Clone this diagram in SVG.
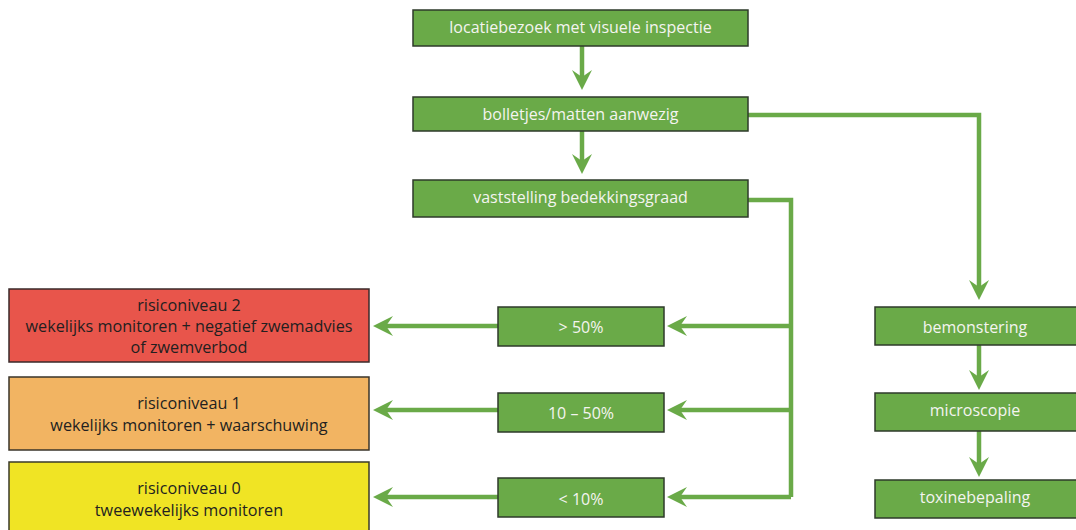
<svg xmlns="http://www.w3.org/2000/svg" width="1076" height="530" viewBox="0 0 1076 530">
<defs>
<marker id="ah" viewBox="0 0 20 20" refX="8" refY="10" markerWidth="20" markerHeight="20" orient="auto" markerUnits="userSpaceOnUse">
<path d="M0,0 L20,10 L0,20 L7,10 Z" fill="#6aaa48"/>
</marker>
<style>
.g{fill:#6aaa48;stroke:#2e3a2a;stroke-width:1.5}
.red{fill:#e8554b;stroke:#3a2a2a;stroke-width:1.5}
.org{fill:#f2b462;stroke:#3a342a;stroke-width:1.5}
.yel{fill:#f0e424;stroke:#3a3a2a;stroke-width:1.5}
.tw{font-family:"Open Sans","Noto Sans",sans-serif;font-size:16px;fill:#f4f4f0;text-anchor:middle}
.td{font-family:"Open Sans","Noto Sans",sans-serif;font-size:16.2px;fill:#231f20;text-anchor:middle}
.c{fill:none;stroke:#6aaa48;stroke-width:4.5}
.a{marker-end:url(#ah)}
</style>
</defs>
<rect width="1076" height="530" fill="#ffffff"/>
<g id="connectors">
<path class="c a" d="M582,46 V78"/>
<path class="c a" d="M582,131 V162"/>
<path class="c a" d="M748,115 H979 V288"/>
<path class="c" d="M748,200 H791 V497"/>
<path class="c a" d="M791,326 H679"/>
<path class="c a" d="M791,410 H679"/>
<path class="c a" d="M791,497 H679"/>
<path class="c a" d="M498,326 H385"/>
<path class="c a" d="M498,410 H385"/>
<path class="c a" d="M498,497 H385"/>
<path class="c a" d="M979,345 V378"/>
<path class="c a" d="M979,431 V465"/>
</g>
<g id="n1"><rect class="g" x="413" y="10" width="335" height="36"/><text class="tw" x="580.5" y="33">locatiebezoek met visuele inspectie</text></g>
<g id="n2"><rect class="g" x="413" y="97" width="335" height="34"/><text class="tw" x="580.5" y="120">bolletjes/matten aanwezig</text></g>
<g id="n3"><rect class="g" x="413" y="180" width="335" height="37"/><text class="tw" x="580.5" y="203">vaststelling bedekkingsgraad</text></g>
<g id="n4"><rect class="g" x="498" y="307" width="166" height="39"/><text class="tw" x="581" y="332.5">&gt; 50%</text></g>
<g id="n5"><rect class="g" x="498" y="393" width="166" height="39"/><text class="tw" x="581" y="418.5">10 – 50%</text></g>
<g id="n6"><rect class="g" x="498" y="478" width="166" height="39"/><text class="tw" x="581" y="504.5">&lt; 10%</text></g>
<g id="n7"><rect class="g" x="875" y="307" width="210" height="38"/><text class="tw" x="975" y="332.5">bemonstering</text></g>
<g id="n8"><rect class="g" x="875" y="393" width="210" height="38"/><text class="tw" x="975" y="415.5">microscopie</text></g>
<g id="n9"><rect class="g" x="875" y="480" width="210" height="38"/><text class="tw" x="975" y="502.5">toxinebepaling</text></g>
<g id="n10"><rect class="red" x="9" y="289" width="360" height="73"/>
<text class="td" x="189" y="310.5">risiconiveau 2</text>
<text class="td" x="189" y="331.5">wekelijks monitoren + negatief zwemadvies</text>
<text class="td" x="189" y="352.5">of zwemverbod</text></g>
<g id="n11"><rect class="org" x="9" y="377" width="360" height="73"/>
<text class="td" x="189" y="408.5">risiconiveau 1</text>
<text class="td" x="189" y="430.5">wekelijks monitoren + waarschuwing</text></g>
<g id="n12"><rect class="yel" x="9" y="462" width="360" height="80"/>
<text class="td" x="189" y="493.5">risiconiveau 0</text>
<text class="td" x="189" y="515.5">tweewekelijks monitoren</text></g>
</svg>
